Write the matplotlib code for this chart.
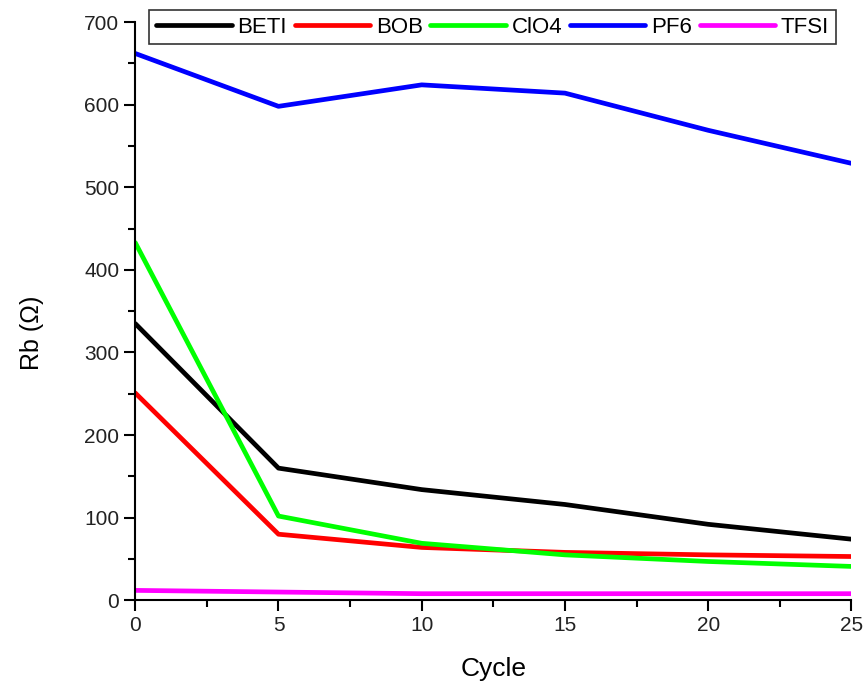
import matplotlib
matplotlib.use("Agg")
import matplotlib.pyplot as plt
from matplotlib.ticker import MultipleLocator

plt.rcParams['font.family'] = ['Liberation Sans', 'DejaVu Sans']

cycles = [0, 5, 10, 15, 20, 25]
beti = [335, 160, 134, 116, 92, 74]
bob = [251, 80, 64, 58, 55, 53]
clo4 = [433, 102, 69, 55, 47, 41]
pf6 = [662, 598, 624, 614, 569, 529]
tfsi = [12, 10, 8, 8, 8, 8]

series = [("BETI", beti, "black"), ("BOB", bob, "red"), ("ClO4", clo4, "#00ff00"),
          ("PF6", pf6, "blue"), ("TFSI", tfsi, "magenta")]

fig = plt.figure(figsize=(8.67, 6.9), dpi=100)
ax = fig.add_axes([0.156, 0.130, 0.826, 0.838])

for name, vals, col in series:
    ax.plot(cycles, vals, color=col, linewidth=3.4, label=name, solid_capstyle='round')

ax.set_xlim(0, 25)
ax.set_ylim(0, 700)
ax.xaxis.set_major_locator(MultipleLocator(5))
ax.xaxis.set_minor_locator(MultipleLocator(2.5))
ax.yaxis.set_major_locator(MultipleLocator(100))
ax.yaxis.set_minor_locator(MultipleLocator(50))
ax.spines['top'].set_visible(False)
ax.spines['right'].set_visible(False)
ax.spines['left'].set_linewidth(1.5)
ax.spines['bottom'].set_linewidth(1.5)
ax.tick_params(which='major', direction='out', length=8, width=1.5, labelsize=15,
               labelcolor='#222222')
ax.tick_params(which='minor', direction='out', length=5, width=1.5)
ax.set_xlabel("Cycle", fontsize=19)
ax.set_ylabel("Rb (Ω)", fontsize=18)
ax.xaxis.set_label_coords(0.5, -0.098)
ax.yaxis.set_label_coords(-0.128, 0.462)

leg = ax.legend(loc='upper center', bbox_to_anchor=(0.499, 1.04), ncol=5, fontsize=16,
                frameon=True, fancybox=False, edgecolor='black', handlelength=3.4,
                columnspacing=0.35, handletextpad=0.25, borderpad=0.3)
leg.get_frame().set_linewidth(1.2)

fig.savefig("out.png", dpi=100)
